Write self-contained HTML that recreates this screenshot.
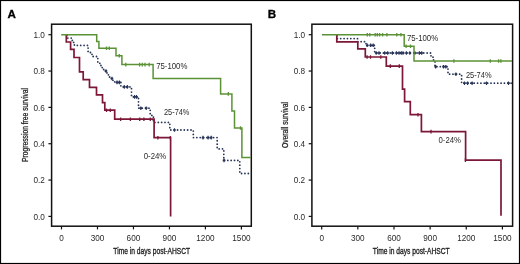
<!DOCTYPE html><html><head><meta charset="utf-8"><style>html,body{margin:0;padding:0;background:#fff;}svg{display:block;will-change:transform;}</style></head><body>
<svg width="520" height="264" viewBox="0 0 520 264" font-family='"Liberation Sans", sans-serif'>
<rect x="0" y="0" width="520" height="264" fill="#fff"/>
<rect x="0.5" y="0.5" width="519" height="263" fill="none" stroke="#000" stroke-width="1.2"/>
<rect x="51.60" y="24.20" width="199.70" height="202.00" fill="none" stroke="#111" stroke-width="1.5"/>
<line x1="48.40" y1="34.70" x2="51.60" y2="34.70" stroke="#111" stroke-width="1.2"/>
<text x="44.80" y="37.90" font-size="8.2" fill="#2a2a2a" text-anchor="end">1.0</text>
<line x1="48.40" y1="71.04" x2="51.60" y2="71.04" stroke="#111" stroke-width="1.2"/>
<text x="44.80" y="74.24" font-size="8.2" fill="#2a2a2a" text-anchor="end">0.8</text>
<line x1="48.40" y1="107.38" x2="51.60" y2="107.38" stroke="#111" stroke-width="1.2"/>
<text x="44.80" y="110.58" font-size="8.2" fill="#2a2a2a" text-anchor="end">0.6</text>
<line x1="48.40" y1="143.72" x2="51.60" y2="143.72" stroke="#111" stroke-width="1.2"/>
<text x="44.80" y="146.92" font-size="8.2" fill="#2a2a2a" text-anchor="end">0.4</text>
<line x1="48.40" y1="180.06" x2="51.60" y2="180.06" stroke="#111" stroke-width="1.2"/>
<text x="44.80" y="183.26" font-size="8.2" fill="#2a2a2a" text-anchor="end">0.2</text>
<line x1="48.40" y1="216.40" x2="51.60" y2="216.40" stroke="#111" stroke-width="1.2"/>
<text x="44.80" y="219.60" font-size="8.2" fill="#2a2a2a" text-anchor="end">0.0</text>
<line x1="61.50" y1="226.20" x2="61.50" y2="229.40" stroke="#111" stroke-width="1.2"/>
<text x="61.50" y="240.80" font-size="8.2" fill="#2a2a2a" text-anchor="middle">0</text>
<line x1="97.48" y1="226.20" x2="97.48" y2="229.40" stroke="#111" stroke-width="1.2"/>
<text x="97.48" y="240.80" font-size="8.2" fill="#2a2a2a" text-anchor="middle">300</text>
<line x1="133.46" y1="226.20" x2="133.46" y2="229.40" stroke="#111" stroke-width="1.2"/>
<text x="133.46" y="240.80" font-size="8.2" fill="#2a2a2a" text-anchor="middle">600</text>
<line x1="169.44" y1="226.20" x2="169.44" y2="229.40" stroke="#111" stroke-width="1.2"/>
<text x="169.44" y="240.80" font-size="8.2" fill="#2a2a2a" text-anchor="middle">900</text>
<line x1="205.42" y1="226.20" x2="205.42" y2="229.40" stroke="#111" stroke-width="1.2"/>
<text x="205.42" y="240.80" font-size="8.2" fill="#2a2a2a" text-anchor="middle">1200</text>
<line x1="241.40" y1="226.20" x2="241.40" y2="229.40" stroke="#111" stroke-width="1.2"/>
<text x="241.40" y="240.80" font-size="8.2" fill="#2a2a2a" text-anchor="middle">1500</text>
<text x="7.60" y="17.60" font-size="11.6" font-weight="bold" fill="#000" stroke="#000" stroke-width="0.3">A</text>
<text transform="translate(27.60 125.00) rotate(-90)" x="0" y="0" font-size="8.9" fill="#222" stroke="#222" stroke-width="0.25" text-anchor="middle" textLength="74.0" lengthAdjust="spacingAndGlyphs">Progression free survival</text>
<text x="151.75" y="253.8" font-size="9.8" fill="#222" stroke="#222" stroke-width="0.35" text-anchor="middle" textLength="76.8" lengthAdjust="spacingAndGlyphs">Time in days post-AHSCT</text>
<path d="M67.00 35.60 L67.00 38.10 L72.20 38.10 L72.20 40.40 L73.40 40.40 L73.40 42.40 L74.40 42.40 L74.40 45.40 L88.10 45.40 L88.10 52.50 L92.00 52.50 L92.00 56.50 L97.80 56.50 L97.80 63.30 L100.50 63.30 L100.50 65.50 L102.00 65.50 L102.00 67.60 L103.60 67.60 L103.60 69.50 L105.10 69.50 L105.10 71.00 L107.00 71.00 L107.00 73.30 L108.10 73.30 L108.10 74.80 L109.60 74.80 L109.60 77.80 L111.20 77.80 L111.20 78.50 L113.00 78.50 L113.00 81.50 L114.80 81.50 L114.80 82.40 L120.90 82.40 L120.90 86.90 L131.50 86.90 L131.50 96.90 L138.50 96.90 L138.50 108.20 L150.20 108.20 L150.20 115.40 L153.40 115.40 L153.40 122.40 L169.80 122.40 L169.80 130.00 L193.30 130.00 L193.30 137.60 L217.20 137.60 L217.20 148.90 L223.80 148.90 L223.80 160.40 L239.80 160.40 L239.80 173.50 L250.50 173.50" fill="none" stroke="#283558" stroke-width="1.80" stroke-dasharray="0.01 3.35" stroke-linecap="round"/><path d="M106.00 69.20V72.80M112.00 76.70V80.30M117.00 80.60V84.20M119.40 80.60V84.20M124.30 85.10V88.70M127.30 85.10V88.70M134.50 95.10V98.70M136.50 95.10V98.70M140.80 106.40V110.00M146.20 106.40V110.00M174.50 128.20V131.80M203.00 135.80V139.40M208.10 135.80V139.40M211.20 135.80V139.40M224.00 158.60V162.20" fill="none" stroke="#283558" stroke-width="1.20"/><path d="M104.70 71.00H107.30M110.70 78.50H113.30M115.70 82.40H118.30M118.10 82.40H120.70M123.00 86.90H125.60M126.00 86.90H128.60M133.20 96.90H135.80M135.20 96.90H137.80M139.50 108.20H142.10M144.90 108.20H147.50M173.20 130.00H175.80M201.70 137.60H204.30M206.80 137.60H209.40M209.90 137.60H212.50M222.70 160.40H225.30" fill="none" stroke="#283558" stroke-width="1.70"/>
<path d="M66.30 34.70 L66.30 42.00 L70.60 42.00 L70.60 49.30 L74.00 49.30 L74.00 57.50 L79.50 57.50 L79.50 71.80 L83.20 71.80 L83.20 79.70 L89.50 79.70 L89.50 87.40 L96.50 87.40 L96.50 94.90 L102.50 94.90 L102.50 102.60 L104.80 102.60 L104.80 110.20 L114.70 110.20 L114.70 119.20 L154.10 119.20 L154.10 137.70 L170.60 137.70 L170.60 216.40" fill="none" stroke="#7c1737" stroke-width="1.70"/><path d="M106.50 108.40V112.00M110.30 108.40V112.00M120.60 117.40V121.00M130.40 117.40V121.00M139.70 117.40V121.00M143.90 117.40V121.00M150.30 117.40V121.00M157.90 135.90V139.50M170.30 135.90V139.50" fill="none" stroke="#7c1737" stroke-width="1.30"/>
<path d="M61.20 34.70 L96.70 34.70 L96.70 41.50 L98.90 41.50 L98.90 48.30 L116.00 48.30 L116.00 55.70 L121.90 55.70 L121.90 64.60 L153.10 64.60 L153.10 78.50 L220.60 78.50 L220.60 93.90 L231.90 93.90 L231.90 111.00 L234.50 111.00 L234.50 128.00 L241.90 128.00 L241.90 157.50 L250.50 157.50" fill="none" stroke="#5c9236" stroke-width="1.50"/><path d="M106.50 46.50V50.10M109.30 46.50V50.10M119.30 53.90V57.50M125.80 62.80V66.40M139.60 62.80V66.40M142.30 62.80V66.40M145.00 62.80V66.40M149.20 62.80V66.40M228.30 92.10V95.70M240.50 126.20V129.80" fill="none" stroke="#5c9236" stroke-width="1.30"/>
<text x="156.20" y="69.30" font-size="8.7" fill="#2a2a2a" textLength="31.2" lengthAdjust="spacingAndGlyphs">75-100%</text>
<text x="164.00" y="115.40" font-size="8.7" fill="#2a2a2a" textLength="25.4" lengthAdjust="spacingAndGlyphs">25-74%</text>
<text x="143.80" y="159.40" font-size="8.7" fill="#2a2a2a" textLength="22.5" lengthAdjust="spacingAndGlyphs">0-24%</text>
<rect x="311.90" y="24.20" width="200.70" height="202.00" fill="none" stroke="#111" stroke-width="1.5"/>
<line x1="308.70" y1="34.70" x2="311.90" y2="34.70" stroke="#111" stroke-width="1.2"/>
<text x="305.10" y="37.90" font-size="8.2" fill="#2a2a2a" text-anchor="end">1.0</text>
<line x1="308.70" y1="71.04" x2="311.90" y2="71.04" stroke="#111" stroke-width="1.2"/>
<text x="305.10" y="74.24" font-size="8.2" fill="#2a2a2a" text-anchor="end">0.8</text>
<line x1="308.70" y1="107.38" x2="311.90" y2="107.38" stroke="#111" stroke-width="1.2"/>
<text x="305.10" y="110.58" font-size="8.2" fill="#2a2a2a" text-anchor="end">0.6</text>
<line x1="308.70" y1="143.72" x2="311.90" y2="143.72" stroke="#111" stroke-width="1.2"/>
<text x="305.10" y="146.92" font-size="8.2" fill="#2a2a2a" text-anchor="end">0.4</text>
<line x1="308.70" y1="180.06" x2="311.90" y2="180.06" stroke="#111" stroke-width="1.2"/>
<text x="305.10" y="183.26" font-size="8.2" fill="#2a2a2a" text-anchor="end">0.2</text>
<line x1="308.70" y1="216.40" x2="311.90" y2="216.40" stroke="#111" stroke-width="1.2"/>
<text x="305.10" y="219.60" font-size="8.2" fill="#2a2a2a" text-anchor="end">0.0</text>
<line x1="321.70" y1="226.20" x2="321.70" y2="229.40" stroke="#111" stroke-width="1.2"/>
<text x="321.70" y="240.80" font-size="8.2" fill="#2a2a2a" text-anchor="middle">0</text>
<line x1="357.84" y1="226.20" x2="357.84" y2="229.40" stroke="#111" stroke-width="1.2"/>
<text x="357.84" y="240.80" font-size="8.2" fill="#2a2a2a" text-anchor="middle">300</text>
<line x1="393.98" y1="226.20" x2="393.98" y2="229.40" stroke="#111" stroke-width="1.2"/>
<text x="393.98" y="240.80" font-size="8.2" fill="#2a2a2a" text-anchor="middle">600</text>
<line x1="430.12" y1="226.20" x2="430.12" y2="229.40" stroke="#111" stroke-width="1.2"/>
<text x="430.12" y="240.80" font-size="8.2" fill="#2a2a2a" text-anchor="middle">900</text>
<line x1="466.26" y1="226.20" x2="466.26" y2="229.40" stroke="#111" stroke-width="1.2"/>
<text x="466.26" y="240.80" font-size="8.2" fill="#2a2a2a" text-anchor="middle">1200</text>
<line x1="502.40" y1="226.20" x2="502.40" y2="229.40" stroke="#111" stroke-width="1.2"/>
<text x="502.40" y="240.80" font-size="8.2" fill="#2a2a2a" text-anchor="middle">1500</text>
<text x="267.80" y="18.10" font-size="11.6" font-weight="bold" fill="#000" stroke="#000" stroke-width="0.3">B</text>
<text transform="translate(287.80 125.00) rotate(-90)" x="0" y="0" font-size="8.9" fill="#222" stroke="#222" stroke-width="0.25" text-anchor="middle" textLength="46.0" lengthAdjust="spacingAndGlyphs">Overall survival</text>
<text x="411.25" y="253.8" font-size="9.8" fill="#222" stroke="#222" stroke-width="0.35" text-anchor="middle" textLength="76.8" lengthAdjust="spacingAndGlyphs">Time in days post-AHSCT</text>
<path d="M337.00 35.60 L337.00 38.60 L357.50 38.60 L357.50 41.70 L366.00 41.70 L366.00 45.30 L374.70 45.30 L374.70 53.00 L431.00 53.00 L431.00 57.00 L433.00 57.00 L433.00 60.00 L435.00 60.00 L435.00 66.70 L448.00 66.70 L448.00 74.20 L461.60 74.20 L461.60 83.20 L512.00 83.20" fill="none" stroke="#283558" stroke-width="1.80" stroke-dasharray="0.01 3.35" stroke-linecap="round"/><path d="M367.20 43.50V47.10M370.60 43.50V47.10M373.20 43.50V47.10M376.20 51.20V54.80M379.00 51.20V54.80M384.70 51.20V54.80M387.70 51.20V54.80M392.40 51.20V54.80M396.40 51.20V54.80M399.00 51.20V54.80M401.30 51.20V54.80M403.00 51.20V54.80M406.40 51.20V54.80M409.80 51.20V54.80M414.90 51.20V54.80M419.40 51.20V54.80M421.70 51.20V54.80M435.60 64.90V68.50M443.50 64.90V68.50M445.80 64.90V68.50M455.90 72.40V76.00M464.50 81.40V85.00M467.60 81.40V85.00M472.10 81.40V85.00M486.50 81.40V85.00M508.50 81.40V85.00" fill="none" stroke="#283558" stroke-width="1.20"/><path d="M365.90 45.30H368.50M369.30 45.30H371.90M371.90 45.30H374.50M374.90 53.00H377.50M377.70 53.00H380.30M383.40 53.00H386.00M386.40 53.00H389.00M391.10 53.00H393.70M395.10 53.00H397.70M397.70 53.00H400.30M400.00 53.00H402.60M401.70 53.00H404.30M405.10 53.00H407.70M408.50 53.00H411.10M413.60 53.00H416.20M418.10 53.00H420.70M420.40 53.00H423.00M434.30 66.70H436.90M442.20 66.70H444.80M444.50 66.70H447.10M454.60 74.20H457.20M463.20 83.20H465.80M466.30 83.20H468.90M470.80 83.20H473.40M485.20 83.20H487.80M507.20 83.20H509.80" fill="none" stroke="#283558" stroke-width="1.70"/>
<path d="M336.80 34.70 L336.80 41.80 L357.80 41.80 L357.80 48.90 L365.30 48.90 L365.30 57.00 L386.30 57.00 L386.30 66.10 L402.50 66.10 L402.50 89.10 L404.60 89.10 L404.60 101.70 L410.30 101.70 L410.30 114.70 L421.40 114.70 L421.40 131.60 L465.60 131.60 L465.60 160.10 L501.00 160.10 L501.00 215.80" fill="none" stroke="#7c1737" stroke-width="1.70"/><path d="M367.10 55.20V58.80M370.50 55.20V58.80M380.80 55.20V58.80M390.30 64.30V67.90M399.30 64.30V67.90M418.00 112.90V116.50M431.00 129.80V133.40M465.40 158.30V161.90" fill="none" stroke="#7c1737" stroke-width="1.30"/>
<path d="M322.00 34.70 L404.20 34.70 L404.20 46.30 L414.00 46.30 L414.00 61.00 L512.00 61.00" fill="none" stroke="#5c9236" stroke-width="1.50"/><path d="M367.30 32.90V36.50M369.80 32.90V36.50M375.20 32.90V36.50M377.30 32.90V36.50M379.60 32.90V36.50M382.60 32.90V36.50M386.90 32.90V36.50M396.80 32.90V36.50M400.90 32.90V36.50M406.10 44.50V48.10M410.50 44.50V48.10M453.90 59.20V62.80M490.30 59.20V62.80M498.60 59.20V62.80M500.90 59.20V62.80" fill="none" stroke="#5c9236" stroke-width="1.30"/>
<text x="406.90" y="40.70" font-size="8.7" fill="#2a2a2a" textLength="31.2" lengthAdjust="spacingAndGlyphs">75-100%</text>
<text x="465.90" y="77.70" font-size="8.7" fill="#2a2a2a" textLength="25.6" lengthAdjust="spacingAndGlyphs">25-74%</text>
<text x="438.50" y="142.80" font-size="8.7" fill="#2a2a2a" textLength="22.5" lengthAdjust="spacingAndGlyphs">0-24%</text>
</svg></body></html>
